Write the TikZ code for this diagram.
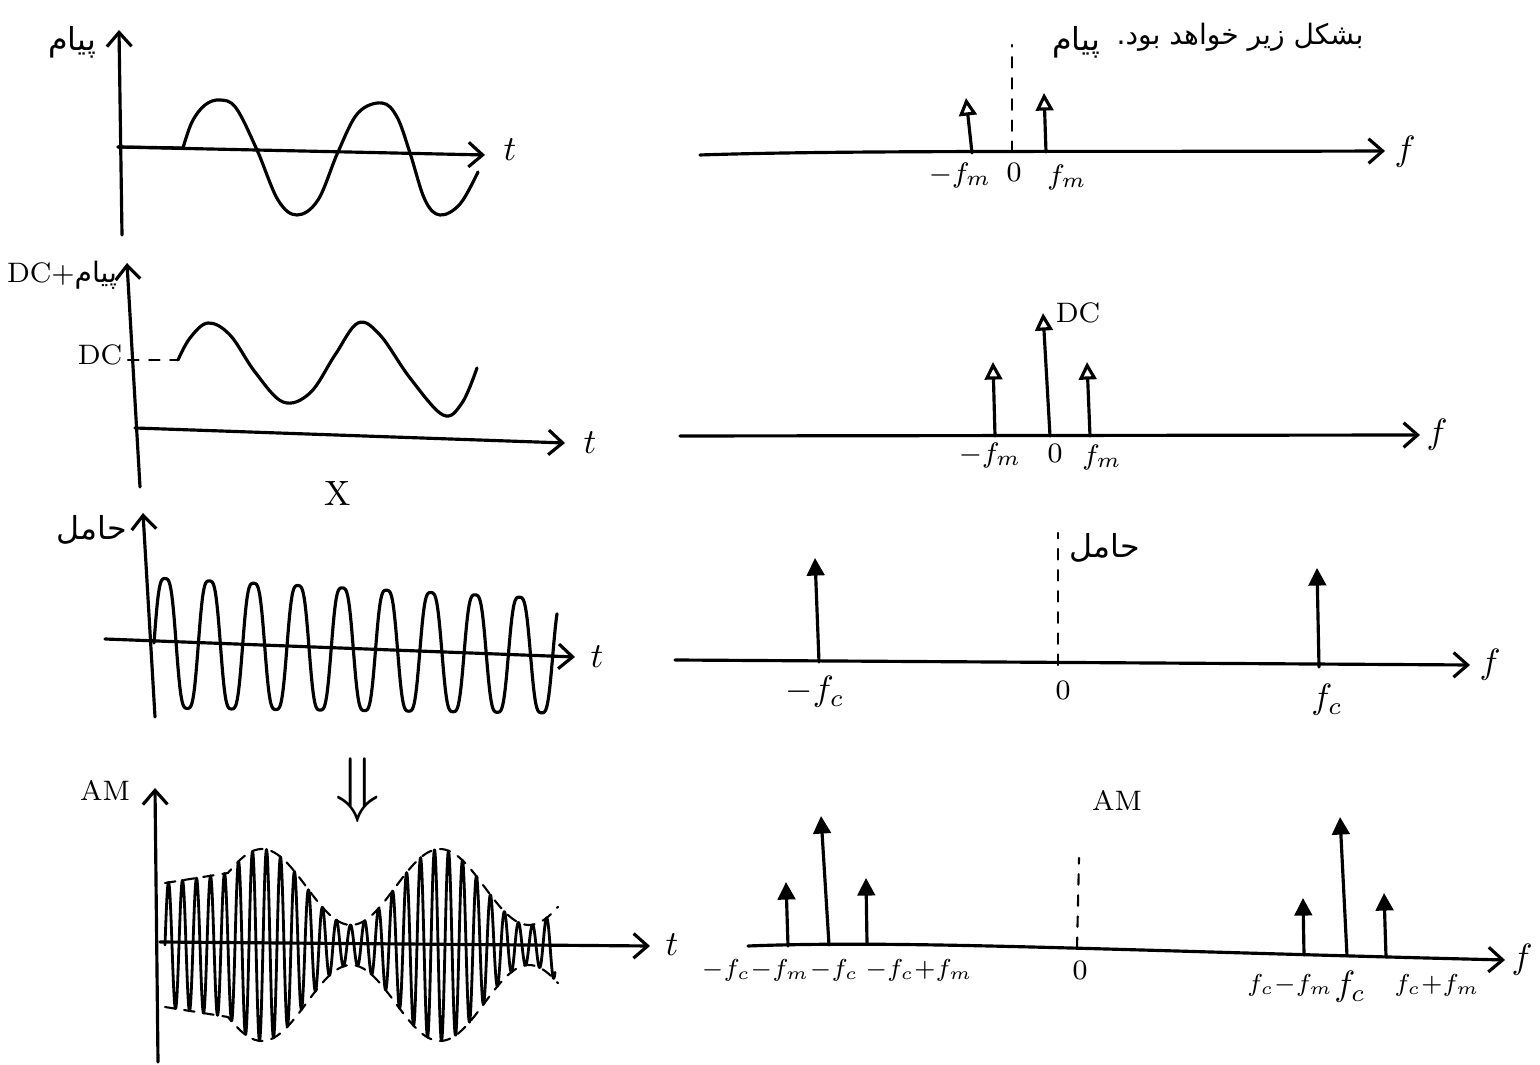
\documentclass[tikz,border=0pt]{standalone}
\usepackage{fontspec}
\newfontfamily\arabicfont[Script=Arabic]{DejaVu Sans}
\TeXXeTstate=1
\usetikzlibrary{arrows.meta}
\begin{document}
\begin{tikzpicture}[x=0.01cm,y=-0.01cm,line width=0.9pt,line cap=round,line join=round,
  axis/.style={-{Straight Barb[length=4pt,width=7pt]}},
  impf/.style={-{Triangle[length=5pt,width=5pt]}},
  impo/.style={-{Triangle[open,length=5pt,width=5pt]}},
  lbl/.style={font=\fontsize{10}{12}\selectfont,inner sep=1pt},
  slbl/.style={font=\fontsize{8}{10}\selectfont,inner sep=1pt},
  tlbl/.style={font=\fontsize{7}{9}\selectfont,inner sep=1pt},
  fa/.style={font=\arabicfont\fontsize{9}{11}\selectfont,inner sep=1pt},
  env/.style={dashed,line width=0.6pt,dash pattern=on 3pt off 2.5pt},
  zline/.style={dashed,line width=0.6pt,dash pattern=on 3pt off 3pt},
  declare function={amp(\x)=ifthenelse(\x<228,62+10*(\x-165)/63,58+38*cos((\x-262)/178*360));}]
\useasboundingbox (0,0) rectangle (1540,1065);
% ================= LEFT PANELS =================
% ---- panel 1: message
\coordinate (a1b) at (122,235); \coordinate (a1t) at (119,30);
\draw[axis] (a1b) -- (a1t);
\coordinate (h1s) at (118,147); \coordinate (h1e) at (485,155);
\draw[axis] (h1s) -- (h1e);
\node[lbl] (t1) at (510,150) {$t$};
\node[fa] (m1) at (72,42) {\beginR پیام\endR};
\draw (118,147) -- (183,148);
\draw plot[smooth,tension=0.6] coordinates {(183,148) (192,122) (205,105) (220,100) (236,108) (257,150) (278,200) (297,215) (318,200) (338,152) (358,113) (382,103) (397,117) (410,153) (425,200) (440,215) (460,204) (478,172)};
% ---- panel 2: DC + message
\coordinate (a2b) at (140,487); \coordinate (a2t) at (127,263);
\draw[axis] (a2b) -- (a2t);
\coordinate (h2s) at (135,428); \coordinate (h2e) at (565,443);
\draw[axis] (h2s) -- (h2e);
\node[lbl] (t2) at (590,443) {$t$};
\node[slbl] (dc2) at (100,355) {DC};
\node[slbl] (dcm) at (62,275) {DC+{\arabicfont\beginR پیام\endR}};
\node[lbl] (x2) at (338,493) {X};
\draw[zline] (128,360) -- (178,360);
\draw plot[smooth,tension=0.6] coordinates {(178,360) (190,338) (208,323) (230,335) (255,372) (283,402) (310,393) (335,355) (358,323) (380,335) (410,378) (443,415) (462,403) (477,368)};
% ---- panel 3: carrier
\coordinate (a3b) at (155,717); \coordinate (a3t) at (143,513);
\draw[axis] (a3b) -- (a3t);
\coordinate (h3s) at (105,639); \coordinate (h3e) at (575,657);
\draw[axis] (h3s) -- (h3e);
\node[lbl] (t3) at (597,657) {$t$};
\node[fa] (c3) at (92,530) {\beginR حامل\endR};
\draw plot[domain=154:557,samples=500] (\x,{643+(\x-154)/400*13-(65-(\x-154)/400*8)*(sin((\x-154)/44.3*360)+sin((\x-154)/44.3*1080)/10)/0.9});
% ---- panel 4: AM
\coordinate (a4b) at (158,1062); \coordinate (a4t) at (155,788);
\draw[axis] (a4b) -- (a4t);
\coordinate (h4s) at (160,942); \coordinate (h4e) at (650,946);
\draw[axis] (h4s) -- (h4e);
\node[lbl] (t4) at (672,945) {$t$};
\node[slbl] (am4) at (105,790) {AM};
\node[font=\fontsize{22}{24}\selectfont] (dar) at (358,790) {$\Downarrow$};
\draw[line width=0.8pt] plot[domain=165:555,samples=900] (\x,{945-amp(\x)*sin((\x-165)/14*360)});
\draw[env] plot[domain=165:558,samples=120] (\x,{945-amp(\x)});
\draw[env] plot[domain=165:558,samples=120] (\x,{945+amp(\x)});
% ================= RIGHT PANELS =================
% ---- R1: message spectrum
\coordinate (r1s) at (700,155); \coordinate (r1e) at (1385,151);
\draw[axis] (r1s) .. controls (850,150) and (1100,152) .. (r1e);
\node[lbl] (f1) at (1405,152) {$f$};
\coordinate (r1z) at (1012,152); \coordinate (r1zt) at (1012,45);
\draw[zline] (r1z) -- (r1zt);
\coordinate (r1ab) at (972,153); \coordinate (r1at) at (966,98);
\coordinate (r1bb) at (1046,152); \coordinate (r1bt) at (1044,93);
\draw[impo] (r1ab) -- (r1at);
\draw[impo] (r1bb) -- (r1bt);
\node[slbl] (l1a) at (960,175) {$-f_m$};
\node[slbl] (l1b) at (1014,172) {$0$};
\node[slbl] (l1c) at (1067,177) {$f_m$};
\node[fa] (p1) at (1076,42) {\beginR پیام\endR};
\node[fa,font=\arabicfont\fontsize{8}{11}\selectfont] (s1) at (1240,37) {\beginR بشکل زیر خواهد بود.\endR};
% ---- R2: DC + message spectrum
\coordinate (r2s) at (680,436); \coordinate (r2e) at (1420,435);
\draw[axis] (r2s) -- (r2e);
\node[lbl] (f2) at (1437,435) {$f$};
\coordinate (r2ab) at (995,436); \coordinate (r2at) at (993,362);
\coordinate (r2bb) at (1050,436); \coordinate (r2bt) at (1043,313);
\coordinate (r2cb) at (1090,436); \coordinate (r2ct) at (1087,362);
\draw[impo] (r2ab) -- (r2at);
\draw[impo] (r2bb) -- (r2bt);
\draw[impo] (r2cb) -- (r2ct);
\node[slbl] (dcr) at (1078,313) {DC};
\node[slbl] (l2a) at (990,455) {$-f_m$};
\node[slbl] (l2b) at (1055,453) {$0$};
\node[slbl] (l2c) at (1102,457) {$f_m$};
% ---- R3: carrier spectrum
\coordinate (r3s) at (675,660); \coordinate (r3e) at (1470,665);
\draw[axis] (r3s) -- (r3e);
\node[lbl] (f3) at (1490,665) {$f$};
\coordinate (r3z) at (1058,665); \coordinate (r3zt) at (1058,533);
\draw[zline] (r3z) -- (r3zt);
\coordinate (r3ab) at (819,662); \coordinate (r3at) at (815,558);
\coordinate (r3bb) at (1319,667); \coordinate (r3bt) at (1317,568);
\draw[impf] (r3ab) -- (r3at);
\draw[impf] (r3bb) -- (r3bt);
\node[fa] (c3r) at (1105,548) {\beginR حامل\endR};
\node[lbl] (l3a) at (815,692) {$-f_c$};
\node[slbl] (l3b) at (1063,690) {$0$};
\node[lbl] (l3c) at (1327,700) {$f_c$};
% ---- R4: AM spectrum
\coordinate (r4s) at (748,946); \coordinate (r4e) at (1505,960);
\draw[axis] (r4s) .. controls (900,940) and (1100,950) .. (r4e);
\node[lbl] (f4) at (1522,960) {$f$};
\coordinate (r4z) at (1077,948); \coordinate (r4zt) at (1079,858);
\draw[zline] (r4z) -- (r4zt);
\coordinate (r4ab) at (788,946); \coordinate (r4at) at (786,882);
\coordinate (r4bb) at (829,945); \coordinate (r4bt) at (821,816);
\coordinate (r4cb) at (867,944); \coordinate (r4ct) at (866,878);
\coordinate (r4db) at (1304,955); \coordinate (r4dt) at (1303,898);
\coordinate (r4eb) at (1347,956); \coordinate (r4et) at (1340,817);
\coordinate (r4fb) at (1386,957); \coordinate (r4ft) at (1384,893);
\foreach \i in {a,b,c,d,e,f} {\draw[impf] (r4\i b) -- (r4\i t);}
\node[slbl] (am4r) at (1117,800) {AM};
\node[tlbl] (l4a) at (780,970) {$-f_c{-}f_m{-}f_c$};
\node[tlbl] (l4b) at (919,970) {$-f_c{+}f_m$};
\node[slbl] (l4z) at (1080,970) {$0$};
\node[tlbl] (l4c) at (1290,985) {$f_c{-}f_m$};
\node[lbl] (l4d) at (1350,987) {$f_c$};
\node[tlbl] (l4e) at (1437,985) {$f_c{+}f_m$};
\end{tikzpicture}
\end{document}
